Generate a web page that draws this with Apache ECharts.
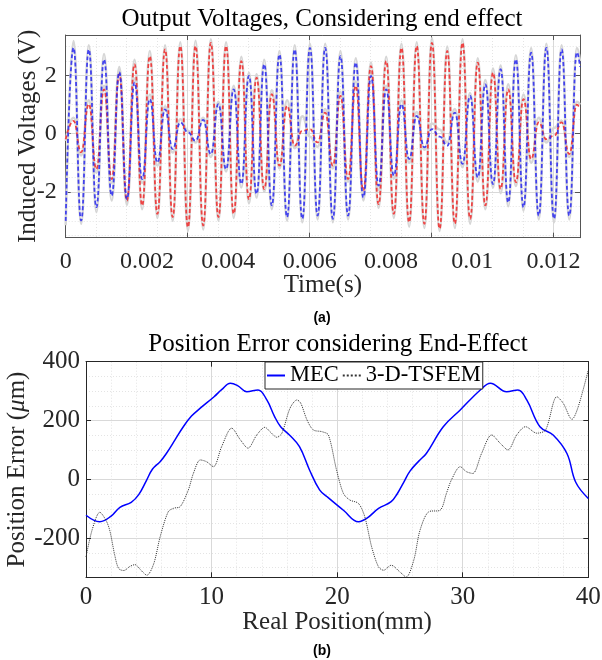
<!DOCTYPE html>
<html>
<head>
<meta charset="utf-8">
<title>Output Voltages / Position Error</title>
<script src="https://cdn.jsdelivr.net/npm/echarts/dist/echarts.min.js"></script>
<style>
  html, body { margin: 0; padding: 0; background: #fff; }
  #chart { width: 602px; height: 660px; }
</style>
</head>
<body>
<div id="chart"></div>
<script>
// (a) output voltages: extrema (time in s, volts)
var voltTime = [0, 0.000192, 0.000380, 0.000568, 0.000755, 0.000943, 0.001131, 0.001318, 0.001506, 0.001693,
  0.001881, 0.002069, 0.002256, 0.002444, 0.002631, 0.002819, 0.003007, 0.003194, 0.003382, 0.003570,
  0.003757, 0.003945, 0.004132, 0.004320, 0.004507, 0.004695, 0.004883, 0.005070, 0.005258, 0.005445,
  0.005633, 0.005820, 0.006008, 0.006196, 0.006383, 0.006571, 0.006758, 0.006946, 0.007134, 0.007321,
  0.007509, 0.007696, 0.007884, 0.008071, 0.008259, 0.008447, 0.008634, 0.008822, 0.009009, 0.009197,
  0.009385, 0.009572, 0.009760, 0.009947, 0.010135, 0.010322, 0.010510, 0.010698, 0.010885, 0.011073,
  0.011260, 0.011448, 0.011636, 0.011823, 0.012011, 0.012198, 0.012386, 0.012573, 0.01265];
var voltBlue = [-3.00, 2.96, -2.99, 2.90, -2.53, 2.56, -2.13, 2.12, -2.25, 1.76,
  -1.56, 1.19, -0.99, 0.84, -0.53, 0.39, 0.05, -0.24, 0.48, -0.70,
  1.02, -1.22, 1.53, -1.73, 1.99, -2.07, 2.39, -2.47, 2.73, -2.87,
  2.90, -2.93, 2.96, -2.82, 2.96, -2.93, 2.67, -2.82, 2.45, -2.19,
  1.99, -1.79, 1.53, -1.44, 1.02, -0.87, 0.61, -0.47, 0.16, -0.10,
  -0.41, 0.73, -1.04, 1.30, -1.50, 1.70, -1.73, 2.22, -2.36, 2.56,
  -2.53, 2.79, -2.82, 2.96, -2.93, 2.90, -2.82, 2.80, 2.30];
var voltRed = [-0.19, 0.44, -0.64, 1.02, -1.22, 1.53, -1.56, 2.05, -2.30, 2.39,
  -2.47, 2.67, -2.76, 2.90, -2.87, 3.02, -3.22, 3.02, -3.16, 3.13,
  -2.87, 3.02, -2.76, 2.50, -2.25, 1.93, -1.90, 1.36, -1.10, 0.96,
  -0.41, 0.10, 0.16, -0.30, 0.73, -1.10, 1.30, -1.56, 1.65, -1.96,
  2.33, -2.42, 2.50, -2.76, 2.96, -3.05, 3.02, -3.10, 3.13, -3.27,
  2.85, -3.10, 3.13, -2.93, 2.45, -2.47, 2.10, -1.90, 1.53, -1.67,
  1.19, -0.87, 0.39, -0.19, -0.07, 0.39, -0.70, 1.00, 0.85];
var voltGrayBlue = [-3.15, 3.19, -3.10, 3.05, -2.70, 2.75, -2.30, 2.30, -2.35, 1.90,
  -1.70, 1.35, -1.10, 0.95, -0.65, 0.50, 0.10, -0.30, 0.55, -0.80,
  1.10, -1.30, 1.65, -1.85, 2.10, -2.20, 2.55, -2.60, 2.85, -3.00,
  3.05, -3.05, 3.10, -2.95, 3.10, -3.05, 2.85, -2.95, 2.60, -2.30,
  2.10, -1.95, 1.65, -1.55, 1.15, -1.00, 0.75, -0.55, 0.35, 0.15,
  -0.30, 0.85, -1.15, 1.40, -1.65, 1.85, -1.85, 2.35, -2.50, 2.70,
  -2.65, 2.95, -2.95, 3.10, -3.05, 3.05, -2.95, 2.95, 2.50];
var voltGrayRed = [-0.25, 0.55, -0.75, 1.15, -1.35, 1.65, -1.70, 2.20, -2.45, 2.55,
  -2.60, 2.85, -2.90, 3.05, -3.00, 3.15, -3.35, 3.20, -3.30, 3.25,
  -3.00, 3.15, -2.90, 2.65, -2.40, 2.05, -2.00, 1.50, -1.20, 1.15,
  -0.50, 0.60, -0.10, -0.45, 0.85, -1.20, 1.45, -1.65, 1.80, -2.10,
  2.45, -2.55, 2.65, -2.90, 3.10, -3.20, 3.15, -3.25, 3.30, -3.35,
  3.00, -3.25, 3.25, -3.10, 2.60, -2.60, 2.25, -2.05, 1.70, -1.80,
  1.35, -1.00, 0.55, -0.30, 0.20, 0.45, -0.80, 1.10, 1.00];

// (b) position error (mm, um)
var mecPos = [0, 1.1, 2.0, 2.7, 3.6, 4.2, 4.8, 5.3, 5.9, 6.4, 7.1, 7.75, 8.4, 9.1, 10.2, 10.8, 11.5, 12.1, 12.8, 13.7,
  14.4, 15.0, 15.5, 16.2, 17.0, 17.8, 18.6, 19.2, 20.5, 21.7, 22.35, 23.3, 24.3, 24.8, 25.3, 25.8, 26.5, 27.1, 28.45, 29.8, 31.4,
  32.2, 33.5, 34.4, 35.1, 36.15, 37.2, 38.3, 39.0, 40];
var mecErr = [-122, -144, -125, -95, -78, -52, -5, 35, 60, 88, 135, 179, 215, 242, 281, 305, 327, 318, 298, 304,
  270, 215, 179, 151, 111, 32, -36, -59, -105, -144, -133, -99, -76, -48, -10, 28, 62, 88, 179, 236, 304,
  327, 298, 304, 270, 179, 151, 88, -10, -65];
var femPos = [0, 0.5, 1.1, 1.6, 1.9, 2.3, 2.6, 3.0, 3.5, 3.9, 4.4, 4.85, 5.4, 5.9, 6.55, 7.0, 7.5, 8.15, 8.55, 9.1,
  9.6, 10.15, 10.8, 11.6, 12.3, 12.9, 13.6, 14.25, 14.7, 15.2, 15.6, 16.25, 16.8, 17.1, 17.6, 18.1, 18.8, 19.3, 19.95, 20.5,
  21.0, 21.7, 22.2, 22.75, 23.3, 23.7, 24.3, 25.0, 25.5, 26.1, 26.6, 27.3, 28.2, 28.7, 29.1, 29.8, 30.3, 30.8, 31.5, 32.3,
  33.0, 33.6, 34.3, 35.0, 35.9, 36.6, 37.5, 38.0, 38.7, 39.2, 40];
var femErr = [-264, -170, -112, -140, -175, -260, -303, -310, -296, -290, -310, -326, -286, -196, -110, -98, -93, -36, 20, 66,
  60, 43, 111, 174, 134, 106, 151, 177, 160, 143, 157, 242, 270, 259, 202, 168, 162, 151, 32, -48,
  -70, -82, -127, -230, -298, -309, -292, -315, -332, -275, -173, -110, -105, -48, -2, 43, 26, 20, 88, 151,
  122, 100, 151, 179, 157, 168, 281, 259, 204, 247, 372];

function pairs(xs, ys) {
  var out = [];
  for (var i = 0; i < xs.length; i++) out.push([xs[i], ys[i]]);
  return out;
}

var serif = 'Liberation Serif';
var txt = '#262626';
function majorLines() {
  return { show: true, lineStyle: { color: '#d9d9d9', width: 1, type: 'solid' } };
}
function minorLines() {
  return { show: true, lineStyle: { color: '#e4e4e4', width: 1, type: [1, 2] } };
}
function border(c) {
  return { show: true, onZero: false, lineStyle: { color: c, width: 1 } };
}
function inTicks(c) {
  return { show: true, inside: true, length: 5, lineStyle: { color: c } };
}

var chart = echarts.init(document.getElementById('chart'));

chart.setOption({
  animation: false,
  backgroundColor: '#fff',
  title: [
    { text: 'Output Voltages, Considering end effect', left: 322, top: 7, padding: 0, textAlign: 'center',
      textStyle: { fontFamily: serif, fontSize: 25, fontWeight: 'normal', color: '#000' } },
    { text: 'Position Error considering End-Effect', left: 338, top: 332, padding: 0, textAlign: 'center',
      textStyle: { fontFamily: serif, fontSize: 25, fontWeight: 'normal', color: '#000' } },
    { text: '(a)', left: 322, top: 311, padding: 0, textAlign: 'center',
      textStyle: { fontFamily: 'Liberation Sans', fontSize: 14, fontWeight: 'bold', color: '#000' } },
    { text: '(b)', left: 322, top: 644, padding: 0, textAlign: 'center',
      textStyle: { fontFamily: 'Liberation Sans', fontSize: 14, fontWeight: 'bold', color: '#000' } }
  ],
  legend: {
    data: ['MEC', '3-D-TSFEM'],
    left: 265, top: 362,
    padding: [2, 2, 2, 1],
    itemWidth: 18, itemHeight: 14, itemGap: 3,
    itemStyle: { opacity: 0 },
    backgroundColor: '#fff', borderColor: '#262626', borderWidth: 1,
    textStyle: { fontFamily: serif, fontSize: 22.5, color: '#000' }
  },
  grid: [
    { left: 65.7, top: 35, width: 514.3, height: 202.7, outerBoundsMode: 'none' },
    { left: 86, top: 361.7, width: 502.3, height: 215.6, outerBoundsMode: 'none' }
  ],
  xAxis: [
    // grid lines and ticks for (a), every 0.003 s
    { type: 'value', gridIndex: 0, min: 0, max: 0.01265, interval: 0.003, position: 'bottom',
      axisLine: { show: false, onZero: false }, axisLabel: { show: false }, axisTick: inTicks('#555'),
      splitLine: majorLines(), minorTick: { show: false, splitNumber: 4 }, minorSplitLine: minorLines() },
    // tick labels for (a)
    { type: 'value', gridIndex: 0, min: 0, max: 0.01265, interval: 0.002, position: 'bottom',
      axisLine: border('#555'), axisTick: { show: false }, splitLine: { show: false },
      axisLabel: { fontFamily: serif, fontSize: 24, color: txt, margin: 12, showMaxLabel: false },
      name: 'Time(s)', nameLocation: 'middle', nameGap: 35, nameMoveOverlap: false,
      nameTextStyle: { fontFamily: serif, fontSize: 25, color: txt } },
    { type: 'value', gridIndex: 0, min: 0, max: 0.01265, interval: 0.003, position: 'top',
      axisLine: border('#555'), axisLabel: { show: false }, axisTick: inTicks('#555'), splitLine: { show: false } },
    // (b)
    { type: 'value', gridIndex: 1, min: 0, max: 40, interval: 10, position: 'bottom',
      axisLine: border('#262626'), axisTick: inTicks('#262626'),
      axisLabel: { fontFamily: serif, fontSize: 25, color: txt, margin: 8 },
      splitLine: majorLines(), minorTick: { show: false, splitNumber: 5 }, minorSplitLine: minorLines(),
      name: 'Real Position(mm)', nameLocation: 'middle', nameGap: 33, nameMoveOverlap: false,
      nameTextStyle: { fontFamily: serif, fontSize: 25, color: txt } },
    { type: 'value', gridIndex: 1, min: 0, max: 40, interval: 10, position: 'top',
      axisLine: border('#262626'), axisLabel: { show: false }, axisTick: inTicks('#262626'), splitLine: { show: false } }
  ],
  yAxis: [
    { type: 'value', gridIndex: 0, min: -3.58, max: 3.4, splitNumber: 3, position: 'left',
      axisLine: border('#555'), axisTick: inTicks('#555'),
      axisLabel: { fontFamily: serif, fontSize: 24, color: txt, margin: 9, showMinLabel: false, showMaxLabel: false },
      splitLine: majorLines(), minorTick: { show: false, splitNumber: 4 }, minorSplitLine: minorLines(),
      name: 'Induced Voltages (V)', nameLocation: 'middle', nameGap: 25, nameRotate: 90, nameMoveOverlap: false,
      nameTextStyle: { fontFamily: serif, fontSize: 25, color: txt } },
    { type: 'value', gridIndex: 0, min: -3.58, max: 3.4, splitNumber: 3, position: 'right',
      axisLine: border('#555'), axisLabel: { show: false }, axisTick: inTicks('#555'), splitLine: { show: false } },
    { type: 'value', gridIndex: 1, min: -333, max: 400, splitNumber: 4, position: 'left',
      axisLine: border('#262626'), axisTick: inTicks('#262626'),
      axisLabel: { fontFamily: serif, fontSize: 25, color: txt, margin: 6, showMinLabel: false },
      splitLine: majorLines(), minorTick: { show: false, splitNumber: 4 }, minorSplitLine: minorLines(),
      name: 'Position Error ({i|\u03bc}m)', nameLocation: 'middle', nameGap: 56, nameRotate: 90, nameMoveOverlap: false,
      nameTextStyle: { fontFamily: serif, fontSize: 25, color: txt,
        rich: { i: { fontFamily: serif, fontSize: 25, fontStyle: 'italic', color: txt } } } },
    { type: 'value', gridIndex: 1, min: -333, max: 400, splitNumber: 4, position: 'right',
      axisLine: border('#262626'), axisLabel: { show: false }, axisTick: inTicks('#262626'), splitLine: { show: false } }
  ],
  series: [
    { name: 'grayBlue', type: 'line', xAxisIndex: 0, yAxisIndex: 0, data: pairs(voltTime, voltGrayBlue),
      symbol: 'none', smooth: 0.5, smoothMonotone: 'x', lineStyle: { color: '#d6d6d6', width: 2.5 } },
    { name: 'grayRed', type: 'line', xAxisIndex: 0, yAxisIndex: 0, data: pairs(voltTime, voltGrayRed),
      symbol: 'none', smooth: 0.5, smoothMonotone: 'x', lineStyle: { color: '#d6d6d6', width: 2.5 } },
    { name: 'red', type: 'line', xAxisIndex: 0, yAxisIndex: 0, data: pairs(voltTime, voltRed),
      symbol: 'none', smooth: 0.5, smoothMonotone: 'x', lineStyle: { color: 'rgba(240,40,40,0.85)', width: 1.8, type: [4, 2.5] } },
    { name: 'blue', type: 'line', xAxisIndex: 0, yAxisIndex: 0, data: pairs(voltTime, voltBlue),
      symbol: 'none', smooth: 0.5, smoothMonotone: 'x', lineStyle: { color: 'rgba(40,40,240,0.85)', width: 1.8, type: [4, 2.5] } },
    { name: 'MEC', type: 'line', xAxisIndex: 3, yAxisIndex: 2, data: pairs(mecPos, mecErr),
      symbol: 'none', smooth: 0.4, lineStyle: { color: '#0000ff', width: 1.5 }, itemStyle: { color: '#0000ff', opacity: 0 } },
    { name: '3-D-TSFEM', type: 'line', xAxisIndex: 3, yAxisIndex: 2, data: pairs(femPos, femErr),
      symbol: 'none', smooth: 0.3, lineStyle: { color: '#333', width: 1, type: 'dotted' }, itemStyle: { color: '#333', opacity: 0 } }
  ]
});
</script>
</body>
</html>
